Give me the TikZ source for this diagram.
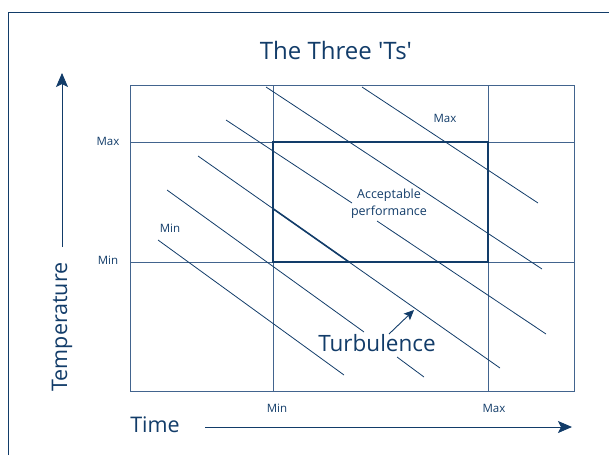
\documentclass[tikz,border=0pt]{standalone}
\usepackage{fontspec}
\setmainfont{Open Sans}
\usetikzlibrary{arrows.meta, positioning}
\definecolor{ttnavy}{HTML}{123C69}
\definecolor{ttgrid}{HTML}{42648E}

\begin{document}
\begin{tikzpicture}[x=1pt, y=-1pt,
    gridline/.style={ttgrid, line width=0.9pt},
    tline/.style={ttnavy, line width=0.8pt},
    ticklbl/.style={font=\fontsize{11.5}{13}\selectfont, text=ttnavy, inner sep=0pt},
    axislbl/.style={font=\fontsize{21.5}{25}\selectfont, text=ttnavy, inner sep=0pt}]
      \useasboundingbox (0,0) rectangle (609,455);
      % frame
      \draw[ttnavy, line width=0.9pt] (8,455) -- (8,12) -- (609,12);
      \node[font=\fontsize{24}{28}\selectfont, text=ttnavy] (title) at (336,50) {The Three \textquotesingle Ts\textquotesingle};
      % grid
      \draw[gridline] (130,85) rectangle (574,391);
      \draw[gridline] (273,85) -- (273,391);
      \draw[gridline] (488,85) -- (488,391);
      \draw[gridline] (130,142) -- (574,142);
      \draw[gridline] (130,262) -- (574,262);
      \draw[ttnavy, line width=2.2pt] (273,142) rectangle (488,262);
      % diagonal bands
      \draw[tline] (362,87) -- (538,203);
      \draw[tline] (266,87) -- (542,269);
      \draw[tline] (226,120) -- (352,203);
      \draw[tline] (377,221) -- (546,334);
      \draw[tline] (198,156) -- (500,368);
      \draw[tline] (167,190) -- (364,332);
      \draw[tline] (397,357) -- (424,377);
      \draw[tline] (158,240) -- (344,375);
      \begin{scope}
        \clip (273,142) rectangle (488,262);
        \draw[ttnavy, line width=1.6pt] (198,156) -- (500,368);
      \end{scope}
      % labels
      \node[ticklbl] (tmax) at (108,141) {Max};
      \node[ticklbl] (tmin) at (108,260) {Min};
      \node[ticklbl] (xmin) at (277,408) {Min};
      \node[ticklbl] (xmax) at (494,408) {Max};
      \node[ticklbl] (bmax) at (445,118) {Max};
      \node[ticklbl] (bmin) at (170,228) {Min};
      \node[ticklbl, align=center, font=\fontsize{12.5}{17}\selectfont] (accept) at (389,204) {Acceptable\\performance};
      \node[axislbl, font=\fontsize{22.5}{26}\selectfont] (turb) at (377,343) {Turbulence};
      \coordinate (turbfoot) at (389,334);
      \coordinate (turbtip) at (414,310);
      \draw[-{Stealth[length=10pt, width=9pt, inset=2pt]}, ttnavy, line width=0.9pt] (turbfoot) -- (turbtip);
      % axes
      \node[axislbl, rotate=90] (temp) at (62,327) {Temperature};
      \node[axislbl] (time) at (155,425) {Time};
      \coordinate (ybase) at (62,247);
      \coordinate (ytip) at (62,73);
      \coordinate (xbase) at (205,427);
      \coordinate (xtip) at (572,427);
      \draw[-{Stealth[length=14pt, width=12pt, inset=3pt]}, ttnavy, line width=0.9pt] (ybase) -- (ytip);
      \draw[-{Stealth[length=14pt, width=12pt, inset=3pt]}, ttnavy, line width=0.9pt] (xbase) -- (xtip);
    \end{tikzpicture}
\end{document}
